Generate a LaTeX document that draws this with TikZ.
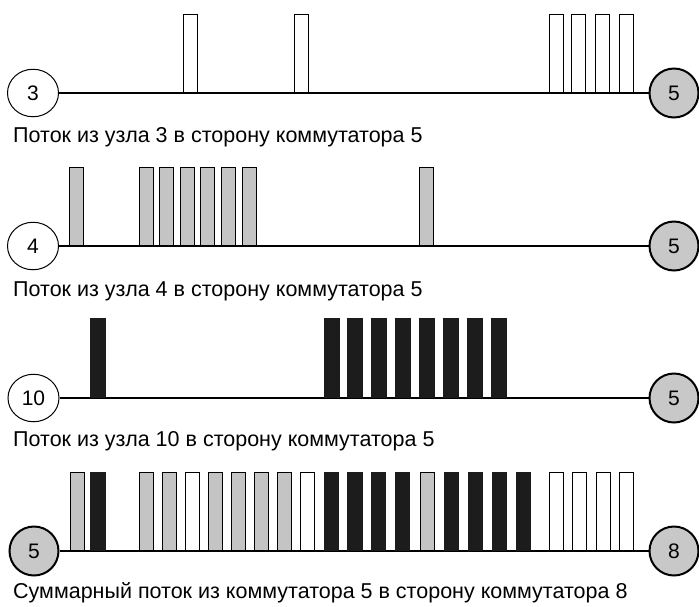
\documentclass[tikz,border=0pt]{standalone}
\usepackage{fontspec}
\setmainfont{Liberation Sans}
\usetikzlibrary{shapes.geometric}
\definecolor{barg}{RGB}{196,196,196}
\definecolor{nodeg}{RGB}{200,200,200}
\definecolor{barb}{RGB}{28,28,28}
\tikzset{
  endnode/.style={ellipse,draw,line width=1pt,minimum width=51pt,minimum height=47.5pt,inner sep=0pt,font=\fontsize{21}{21}\selectfont,fill=white},
  switchnode/.style={circle,draw,line width=2pt,fill=nodeg,minimum size=49pt,inner sep=0pt,font=\fontsize{21}{21}\selectfont},
  wire/.style={line width=1.1pt},
  wbar/.style={draw,line width=0.9pt,fill=white},
  gbar/.style={draw,line width=0.9pt,fill=barg},
  bbar/.style={draw=barb,line width=0.9pt,fill=barb},
  caption/.style={anchor=base west,inner sep=0pt,font=\fontsize{21.5}{24}\selectfont},
}
\begin{document}
\begin{tikzpicture}[x=1pt,y=-1pt]
\useasboundingbox (0,0) rectangle (699,606);
% Row 1
\node[endnode] (n3) at (33,93) {3};
\node[switchnode] (s5a) at (674,93) {5};
\draw[wire] (n3) -- (s5a);
\foreach \x in {183,294,549,571.5,595.5,619} \draw[wbar] (\x,14) rectangle ++(14,78.7);
\node[caption] (c1) at (13,142.7) {Поток из узла 3 в сторону коммутатора 5};
% Row 2
\node[endnode] (n4) at (33,246) {4};
\node[switchnode] (s5b) at (674,246) {5};
\draw[wire] (n4) -- (s5b);
\foreach \x in {69.5,139,159.5,180,200.7,221.3,242,419.3} \draw[gbar] (\x,167.3) rectangle ++(14,78.4);
\node[caption] (c2) at (13,296.7) {Поток из узла 4 в сторону коммутатора 5};
% Row 3
\node[endnode] (n10) at (33.5,398) {10};
\node[switchnode] (s5c) at (674,398) {5};
\draw[wire] (n10) -- (s5c);
\foreach \x in {90.7,324,347.5,371,395,419,443,467.3,491.3} \draw[bbar] (\x,318.3) rectangle ++(15,79.4);
\node[caption] (c3) at (13,446.7) {Поток из узла 10 в сторону коммутатора 5};
% Row 4
\node[switchnode] (s5d) at (34,551) {5};
\node[switchnode] (s8) at (674,551) {8};
\draw[wire] (s5d) -- (s8);
\foreach \x in {70,139.3,162.7,208.7,231.3,254.7,277.3,420.7} \draw[gbar] (\x,472.7) rectangle ++(14,78);
\foreach \x in {185.3,300.7,549.3,572.7,596,619.3} \draw[wbar] (\x,472.7) rectangle ++(14,78);
\foreach \x in {90.7,324,347.5,371,395,444,468,492,516} \draw[bbar] (\x,472.7) rectangle ++(14.7,78);
\node[caption] (c4) at (13,598.3) {Суммарный поток из коммутатора 5 в сторону коммутатора 8};
\end{tikzpicture}
\end{document}
